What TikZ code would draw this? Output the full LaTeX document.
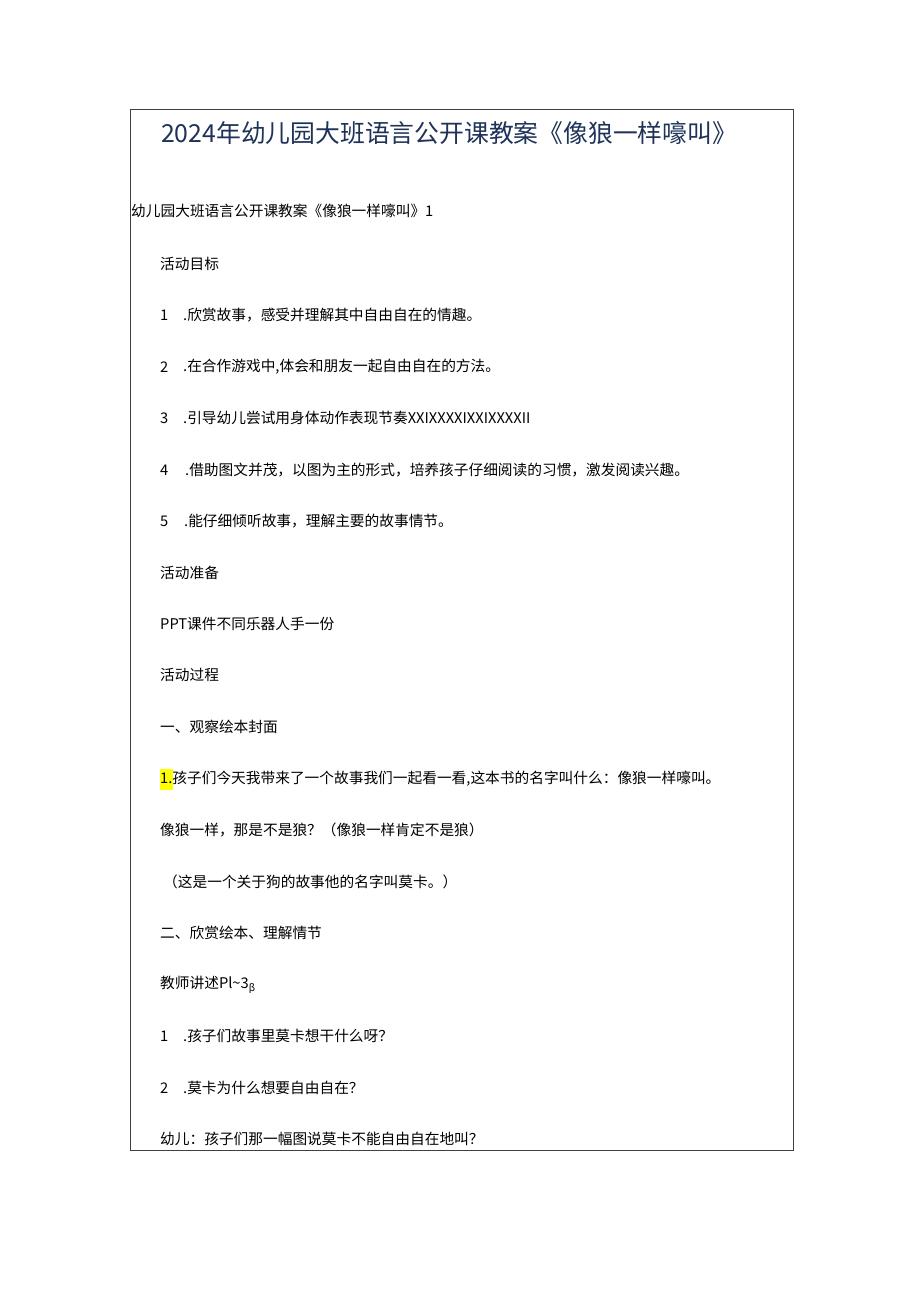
\documentclass[tikz,border=0pt]{standalone}
\usepackage{fontspec}
\setmainfont{Noto Sans CJK SC}
\definecolor{titleblue}{HTML}{1F3358}
\definecolor{hl}{HTML}{FFFF00}
\begin{document}
\begin{tikzpicture}[x=1pt,y=-1pt,
  body/.style={anchor=west,inner sep=0pt,font=\fontsize{14.7}{18}\selectfont,text=black},
  ttl/.style={anchor=west,inner sep=0pt,font=\fontsize{24.8}{28}\selectfont,text=titleblue}]
\useasboundingbox[fill=white] (0,0) rectangle (920,1301);
\draw[line width=0.8pt,draw=black!75] (130,109) rectangle (793,1150);
\node[ttl] (title) at (161,133) {2024年幼儿园大班语言公开课教案《像狼一样嚎叫》};
\node[body] (sub) at (131,211) {幼儿园大班语言公开课教案《像狼一样嚎叫》1};
\node[body] (h1) at (160,264) {活动目标};
\node[body] (n1) at (160,315) {1};
\node[body] (t1) at (183,315) {.欣赏故事，感受并理解其中自由自在的情趣。};
\node[body] (n2) at (160,367) {2};
\node[body] (t2) at (183,367) {.在合作游戏中,体会和朋友一起自由自在的方法。};
\node[body] (n3) at (160,418) {3};
\node[body] (t3) at (183,418) {.引导幼儿尝试用身体动作表现节奏XXIXXXXIXXIXXXXII};
\node[body] (n4) at (160,470) {4};
\node[body] (t4) at (185,470) {.借助图文并茂，以图为主的形式，培养孩子仔细阅读的习惯，激发阅读兴趣。};
\node[body] (n5) at (160,521) {5};
\node[body] (t5) at (184,521) {.能仔细倾听故事，理解主要的故事情节。};
\node[body] (h2) at (160,573) {活动准备};
\node[body] (p1) at (160,624) {PPT课件不同乐器人手一份};
\node[body] (h3) at (160,675) {活动过程};
\node[body] (h4) at (160,727) {一、观察绘本封面};
\fill[hl] (160,769) rectangle (173,790);
\node[body] (q1) at (160,779) {1.孩子们今天我带来了一个故事我们一起看一看,这本书的名字叫什么：像狼一样嚎叫。};
\node[body] (q2) at (160,830) {像狼一样，那是不是狼？（像狼一样肯定不是狼）};
\node[body] (q3) at (163,882) {（这是一个关于狗的故事他的名字叫莫卡。）};
\node[body] (h5) at (160,933) {二、欣赏绘本、理解情节};
\node[body] (q4) at (160,985) {教师讲述Pl\textasciitilde3\raisebox{-3pt}{\fontsize{10}{12}\selectfont β}};
\node[body] (n6) at (160,1036) {1};
\node[body] (t6) at (183,1036) {.孩子们故事里莫卡想干什么呀？};
\node[body] (n7) at (160,1088) {2};
\node[body] (t7) at (183,1088) {.莫卡为什么想要自由自在？};
\node[body] (q5) at (160,1139) {幼儿：孩子们那一幅图说莫卡不能自由自在地叫？};
\end{tikzpicture}
\end{document}
